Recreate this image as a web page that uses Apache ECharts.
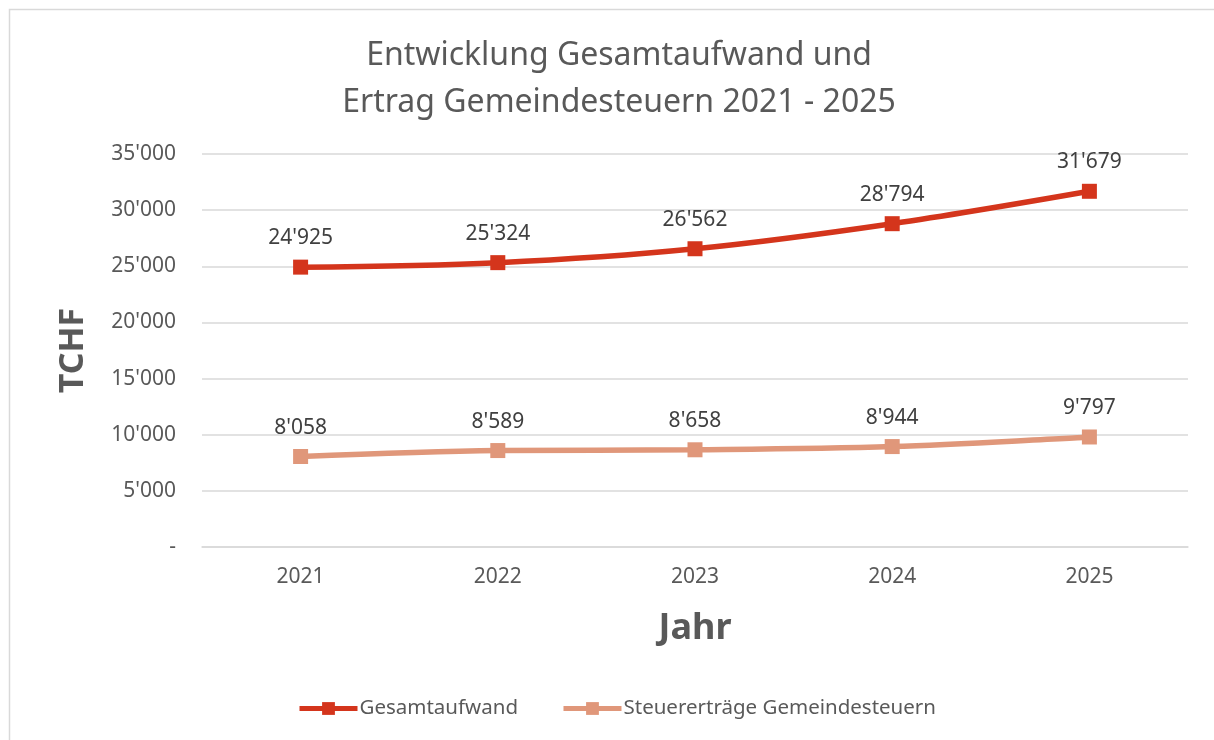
<!DOCTYPE html>
<html>
<head>
<meta charset="utf-8">
<script src="https://cdn.jsdelivr.net/npm/echarts@6/dist/echarts.min.js"></script>
<style>
html,body{margin:0;padding:0;background:#fff;}
#chart1{width:1214px;height:740px;}
</style>
</head>
<body>
<div id="chart1"></div>
<script>
var jahre = ['2021', '2022', '2023', '2024', '2025'];
var gesamtaufwand = [24925, 25324, 26562, 28794, 31679];
var steuerertraege = [8058, 8589, 8658, 8944, 9797];
var serienNamen = ['Gesamtaufwand', 'Steuererträge Gemeindesteuern'];
var farben = ['#d4351c', '#e0977a'];

// Tausender mit Apostroph, 0 als "-"
function chf(v) {
    if (v === 0) return '-';
    return String(v).replace(/\B(?=(\d{3})+(?!\d))/g, "'");
}

var schrift = 'Noto Sans';

function linie(name, daten, farbe) {
    return {
        name: name,
        type: 'line',
        smooth: 0.35,
        data: daten,
        symbol: 'rect',
        symbolSize: 15,
        showAllSymbol: true,
        lineStyle: { color: farbe, width: 5.5 },
        itemStyle: { color: farbe },
        label: {
            show: true,
            position: 'top',
            distance: 11,
            color: '#404040',
            fontFamily: schrift,
            fontSize: 21,
            formatter: function (p) { return chf(p.value); }
        },
        emphasis: { disabled: true }
    };
}

var Chart1 = echarts.init(document.getElementById('chart1'));
var option1 = {
    backgroundColor: '#fff',
    animation: false,
    graphic: [{
        type: 'rect',
        shape: { x: 9.5, y: 9.5, width: 1230, height: 760 },
        style: { fill: 'none', stroke: '#d9d9d9', lineWidth: 1.5 },
        silent: true
    }],
    title: {
        text: 'Entwicklung Gesamtaufwand und\nErtrag Gemeindesteuern 2021 - 2025',
        left: 614,
        textAlign: 'center',
        top: 27,
        textStyle: {
            color: '#595959',
            fontFamily: schrift,
            fontWeight: 'normal',
            fontSize: 32,
            lineHeight: 47
        }
    },
    legend: {
        bottom: 16,
        left: 292,
        itemWidth: 58,
        itemHeight: 16,
        itemGap: 43,
        lineStyle: { width: 5 },
        textStyle: { color: '#595959', fontFamily: schrift, fontSize: 20.5, padding: [0, 0, 0, -3] },
        data: serienNamen
    },
    grid: { left: 202, right: 26, top: 154, bottom: 193 },
    xAxis: {
        type: 'category',
        data: jahre,
        boundaryGap: true,
        name: 'Jahr',
        nameLocation: 'middle',
        nameGap: 64,
        nameTextStyle: { color: '#595959', fontFamily: schrift, fontSize: 36, fontWeight: 'bold' },
        axisLine: { lineStyle: { color: '#d9d9d9', width: 1.5 } },
        axisTick: { show: false },
        axisLabel: { color: '#595959', fontFamily: schrift, fontSize: 21, margin: 20 }
    },
    yAxis: {
        type: 'value',
        min: 0,
        max: 35000,
        interval: 5000,
        name: 'TCHF',
        nameLocation: 'middle',
        nameGap: 112,
        nameRotate: 90,
        nameTextStyle: { color: '#595959', fontFamily: schrift, fontSize: 34, fontWeight: 'bold' },
        axisLine: { show: false },
        axisTick: { show: false },
        splitLine: { lineStyle: { color: '#d9d9d9', width: 1.5 } },
        axisLabel: {
            color: '#595959', fontFamily: schrift, fontSize: 21, margin: 26,
            formatter: chf
        }
    },
    series: [
        linie(serienNamen[0], gesamtaufwand, farben[0]),
        linie(serienNamen[1], steuerertraege, farben[1])
    ]
};
Chart1.setOption(option1);

window.onresize = function () {
    Chart1.resize();
};
</script>
</body>
</html>
